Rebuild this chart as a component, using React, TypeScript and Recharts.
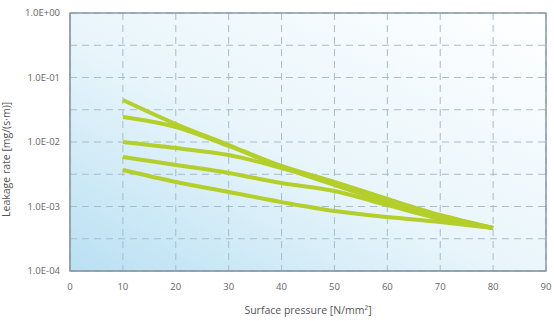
import { LineChart, Line, XAxis, YAxis, CartesianGrid, ReferenceArea } from 'recharts';

const pressure = [10, 20, 30, 40, 50, 60, 70, 80];
const seriesA = [0.0448, 0.019, 0.00898, 0.00425, 0.0024, 0.00131, 0.000738, 0.000465];
const seriesB = [0.0244, 0.0171, 0.00867, 0.0041, 0.00215, 0.00117, 0.000687, 0.000465];
const seriesC = [0.01, 0.00807, 0.00628, 0.00395, 0.00223, 0.00122, 0.000713, 0.000465];
const seriesD = [0.00585, 0.0044, 0.00331, 0.00231, 0.00174, 0.00105, 0.00064, 0.000465];
const seriesE = [0.00368, 0.0024, 0.00168, 0.00117, 0.000851, 0.000687, 0.000575, 0.000465];

const xTicks = [0, 10, 20, 30, 40, 50, 60, 70, 80, 90];
const yTicks = [1e-4, 3.162e-4, 1e-3, 3.162e-3, 1e-2, 3.162e-2, 1e-1, 3.162e-1, 1];
const decadeLabels: Record<string, string> = {
  '0.0001': '1.0E-04',
  '0.001': '1.0E-03',
  '0.01': '1.0E-02',
  '0.1': '1.0E-01',
  '1': '1.0E+00',
};

const data = pressure.map((p, i) => ({
  p,
  a: seriesA[i],
  b: seriesB[i],
  c: seriesC[i],
  d: seriesD[i],
  e: seriesE[i],
}));

const lineColor = '#b4ce2a';
const tickStyle = { fontSize: 9.5, fill: '#666', fontFamily: 'Open Sans' };

export default function App() {
  return (
    <div style={{ position: 'absolute', left: 0, top: 0, fontFamily: 'Open Sans' }}>
      <LineChart width={554} height={321} data={data} margin={{ top: 13, right: 8, bottom: 0, left: 0 }}>
        <defs>
          <linearGradient id="bg" x1="0" y1="1" x2="1" y2="0">
            <stop offset="0%" stopColor="#b9e0f3" />
            <stop offset="45%" stopColor="#e8f5fb" />
            <stop offset="100%" stopColor="#ffffff" />
          </linearGradient>
        </defs>
        <CartesianGrid fill="url(#bg)" stroke="#a8bccb" strokeDasharray="7 5" />
        <XAxis
          dataKey="p"
          type="number"
          domain={[0, 90]}
          ticks={xTicks}
          tick={tickStyle}
          tickLine={false}
          axisLine={{ stroke: '#8a9aa5' }}
          height={50}
          tickMargin={6}
          label={{ value: 'Surface pressure [N/mm²]', position: 'insideBottom', offset: 7, fontSize: 10.5, fill: '#555' }}
        />
        <YAxis
          type="number"
          scale="log"
          domain={[1e-4, 1]}
          allowDataOverflow
          ticks={yTicks}
          tickFormatter={(v: number) => decadeLabels[String(v)] ?? ''}
          tick={tickStyle}
          tickLine={false}
          axisLine={{ stroke: '#8a9aa5' }}
          width={70}
          tickMargin={4}
          label={{ value: 'Leakage rate [mg/(s·m)]', angle: -90, position: 'insideLeft', offset: 6, dy: 75, fontSize: 10.5, fill: '#555' }}
        />
        <ReferenceArea x1={0} x2={90} y1={1e-4} y2={1} fill="none" stroke="#8a9aa5" strokeWidth={1.5} ifOverflow="extendDomain" />
        <Line dataKey="a" stroke={lineColor} strokeWidth={4} dot={false} type="monotone" isAnimationActive={false} />
        <Line dataKey="b" stroke={lineColor} strokeWidth={4} dot={false} type="monotone" isAnimationActive={false} />
        <Line dataKey="c" stroke={lineColor} strokeWidth={4} dot={false} type="monotone" isAnimationActive={false} />
        <Line dataKey="d" stroke={lineColor} strokeWidth={4} dot={false} type="monotone" isAnimationActive={false} />
        <Line dataKey="e" stroke={lineColor} strokeWidth={4} dot={false} type="monotone" isAnimationActive={false} />
      </LineChart>
    </div>
  );
}
